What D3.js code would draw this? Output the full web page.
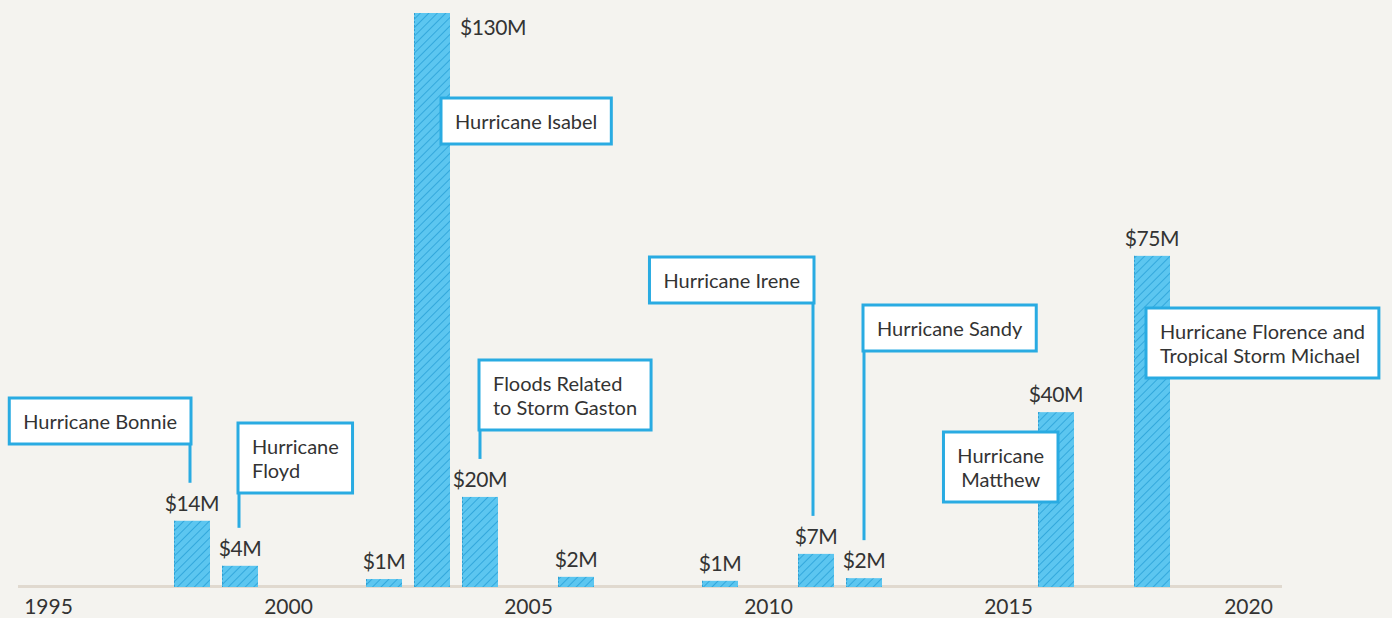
<!DOCTYPE html>
<html>
<head>
<meta charset="utf-8">
<script src="https://cdn.jsdelivr.net/npm/d3@7"></script>
<style>
	html, body { margin: 0; padding: 0; background: #f4f3ef; }
	svg { display: block; font-family: Lato, "Open Sans", sans-serif; }
</style>
</head>
<body>
<div class="chart"></div>
<script>
// damage by storm year, $ millions
var years = [1998, 1999, 2002, 2003, 2004, 2006, 2009, 2011, 2012, 2016, 2018];
var values = [15, 4.8, 1.8, 130, 20.4, 2.3, 1.4, 7.5, 2.0, 39.6, 75];
var valueLabels = ["$14M", "$4M", "$1M", "$130M", "$20M", "$2M", "$1M", "$7M", "$2M", "$40M", "$75M"];
var tickYears = [1995, 2000, 2005, 2010, 2015, 2020];

var stormYears = [1998, 1999, 2003, 2004, 2011, 2012, 2016, 2018];
var stormNames = [
	["Hurricane Bonnie"],
	["Hurricane", "Floyd"],
	["Hurricane Isabel"],
	["Floods Related", "to Storm Gaston"],
	["Hurricane Irene"],
	["Hurricane Sandy"],
	["Hurricane", "Matthew"],
	["Hurricane Florence and", "Tropical Storm Michael"]
];

// box placement: side of the bar, offset from bar centre, box top, leader line?
var boxLayout = [
	{side: "right", dx: -1, top: 398, leader: true},
	{side: "left", dx: -2, top: 423, leader: true},
	{side: "left", dx: 9, top: 98, leader: false},
	{side: "left", dx: -1, top: 360, leader: true},
	{side: "right", dx: -2, top: 257, leader: true},
	{side: "left", dx: -1, top: 305, leader: true},
	{side: "right", dx: 2, top: 432, leader: false, center: true},
	{side: "left", dx: -6, top: 308, leader: false}
];

var width = 1392, height = 618;
var blue = "#29abe2", ink = "#333";

var svg = d3.select(".chart").append("svg")
	.attr("width", width)
	.attr("height", height);

var defs = svg.append("defs");
var pat = defs.append("pattern")
	.attr("id", "hatch")
	.attr("patternUnits", "userSpaceOnUse")
	.attr("width", 6)
	.attr("height", 6)
	.attr("patternTransform", "rotate(45)");
pat.append("rect").attr("width", 6).attr("height", 6).attr("fill", "#5cc6f0");
pat.append("line")
	.attr("x1", 0).attr("y1", 0).attr("x2", 0).attr("y2", 6)
	.attr("stroke", "#2ea5da").attr("stroke-width", 1.8);

var x = d3.scaleLinear().domain([1995, 2020]).range([48, 1248]);
var y = d3.scaleLinear().domain([0, 130]).range([587, 13]);
var barW = (x(1996) - x(1995)) * 0.75;

// baseline
svg.append("line")
	.attr("x1", x(1995) - 30)
	.attr("x2", x(2020) + 34)
	.attr("y1", y(0) - 0.5)
	.attr("y2", y(0) - 0.5)
	.attr("stroke", "#e0d9cf")
	.attr("stroke-width", 3);

var axis = svg.append("g")
	.attr("transform", "translate(0," + (y(0) + 2) + ")")
	.call(d3.axisBottom(x).tickValues(tickYears).tickSize(0).tickPadding(10).tickFormat(d3.format("d")));
axis.select(".domain").remove();
axis.selectAll("text")
	.attr("fill", ink)
	.style("font-size", "21px")
	.style("font-family", "Lato, sans-serif");

var bars = svg.append("g").selectAll("g")
	.data(years)
	.enter().append("g");

bars.append("rect")
	.attr("x", function(d) { return x(d) - barW / 2; })
	.attr("y", function(d, i) { return y(values[i]); })
	.attr("width", barW)
	.attr("height", function(d, i) { return y(0) - y(values[i]); })
	.attr("fill", "url(#hatch)");

bars.append("line")
	.attr("x1", function(d) { return x(d) - barW / 2 + 0.5; })
	.attr("x2", function(d) { return x(d) - barW / 2 + 0.5; })
	.attr("y1", function(d, i) { return y(values[i]); })
	.attr("y2", y(0))
	.attr("stroke", "#2f9fd2")
	.attr("stroke-width", 1)
	.attr("stroke-dasharray", "2,2");

bars.append("text")
	.attr("x", function(d, i) { return values[i] > 100 ? x(d) + barW / 2 + 10 : x(d); })
	.attr("y", function(d, i) { return values[i] > 100 ? y(values[i]) + 22 : y(values[i]) - 10; })
	.attr("text-anchor", function(d, i) { return values[i] > 100 ? "start" : "middle"; })
	.attr("fill", ink)
	.style("font-size", "21px")
	.style("letter-spacing", "-0.4px")
	.text(function(d, i) { return valueLabels[i]; });

// annotation boxes
var notes = svg.append("g");
stormYears.forEach(function(yr, i) {
	var lay = boxLayout[i],
		lines = stormNames[i],
		cx = x(yr),
		idx = years.indexOf(yr),
		g = notes.append("g");

	var box = g.append("rect")
		.attr("fill", "#fff")
		.attr("stroke", blue)
		.attr("stroke-width", 3);

	var txt = g.append("text")
		.attr("fill", ink)
		.style("font-size", "20px");
	txt.selectAll("tspan")
		.data(lines)
		.enter().append("tspan")
		.attr("dy", function(d, j) { return j ? 24 : 0; })
		.text(function(d) { return d; });

	var tw = d3.max(txt.selectAll("tspan").nodes(), function(n) { return n.getComputedTextLength(); });
	var bw = tw + 28,
		bh = 22 + lines.length * 24,
		bx = lay.side === "left" ? cx + lay.dx : cx + lay.dx - bw;

	box.attr("x", bx).attr("y", lay.top).attr("width", bw).attr("height", bh);
	txt.attr("y", lay.top + 31);
	if (lay.center) {
		txt.attr("text-anchor", "middle");
		txt.selectAll("tspan").attr("x", bx + bw / 2);
	} else {
		txt.selectAll("tspan").attr("x", bx + 14);
	}

	if (lay.leader) {
		var lx = lay.side === "left" ? bx + 1 : bx + bw - 1;
		notes.insert("line", ":first-child")
			.attr("x1", lx).attr("x2", lx)
			.attr("y1", lay.top + bh)
			.attr("y2", y(values[idx]) - 38)
			.attr("stroke", blue)
			.attr("stroke-width", 3);
	}
});
</script>
</body>
</html>
